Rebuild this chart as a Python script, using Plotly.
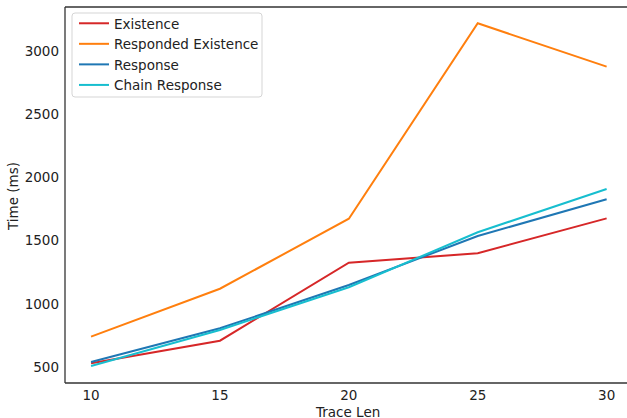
import plotly.graph_objects as go

trace_len = [10, 15, 20, 25, 30]
existence = [529, 708, 1325, 1400, 1676]
responded_existence = [740, 1119, 1673, 3219, 2876]
response = [540, 806, 1149, 1536, 1827]
chain_response = [508, 793, 1131, 1566, 1908]

series = [
    ("Existence", existence, "#d62728"),
    ("Responded Existence", responded_existence, "#ff7f0e"),
    ("Response", response, "#1f77b4"),
    ("Chain Response", chain_response, "#17becf"),
]

fig = go.Figure()
for name, vals, color in series:
    fig.add_trace(go.Scatter(x=trace_len, y=vals, mode="lines", name=name,
                             line=dict(color=color, width=2)))

W, H = 627, 418
L, R, T, B = 65, 0, 7, 35
pw, ph = W - L - R, H - T - B

def px(x):
    return (x - L) / pw

def py(y):
    return (H - B - y) / ph

font = dict(family="DejaVu Sans", size=13.5, color="#222")
fig.update_layout(
    width=W, height=H,
    margin=dict(l=L, r=R, t=T, b=B),
    plot_bgcolor="white", paper_bgcolor="white",
    font=font,
    showlegend=True,
    legend=dict(x=px(74), y=py(8), xanchor="left", yanchor="top",
                bgcolor="rgba(0,0,0,0)", borderwidth=0,
                font=dict(family="DejaVu Sans", size=13.5, color="#222"),
                tracegroupgap=0, itemwidth=30),
    xaxis=dict(range=[8.99, 30.79], tickvals=[10, 15, 20, 25, 30], showgrid=False,
               zeroline=False, showline=False, ticks="", ticklabelstandoff=2,
               automargin=False),
    yaxis=dict(range=[373.4, 3348], tickvals=[500, 1000, 1500, 2000, 2500, 3000],
               showgrid=False, zeroline=False, showline=False, ticks="",
               ticklabelstandoff=5, automargin=False),
)

fig.add_annotation(text="Trace Len", xref="paper", yref="paper", x=px(347.5), y=py(411.5),
                   xanchor="center", yanchor="middle", showarrow=False, font=font)
fig.add_annotation(text="Time (ms)", xref="paper", yref="paper", x=px(13), y=py(197),
                   xanchor="center", yanchor="middle", showarrow=False, textangle=-90,
                   font=font)

# legend frame (rounded)
x0, x1, y0, y1, r = 72, 262, 13, 97, 3
rx, ry = r / pw, r / ph
X0, X1, Y0, Y1 = px(x0), px(x1), py(y1), py(y0)
path = (f"M {X0+rx},{Y0} L {X1-rx},{Y0} Q {X1},{Y0} {X1},{Y0+ry} "
        f"L {X1},{Y1-ry} Q {X1},{Y1} {X1-rx},{Y1} L {X0+rx},{Y1} "
        f"Q {X0},{Y1} {X0},{Y1-ry} L {X0},{Y0+ry} Q {X0},{Y0} {X0+rx},{Y0} Z")
fig.add_shape(type="path", xref="paper", yref="paper", path=path,
              fillcolor="rgba(255,255,255,0.8)", line=dict(color="#d5d5d5", width=1),
              layer="above")

for a0, b0, a1, b1 in [(0, 0, 0, 1), (0, 1, 1, 1), (0, 0, 1, 0)]:
    fig.add_shape(type="line", xref="paper", yref="paper", x0=a0, y0=b0, x1=a1, y1=b1,
                  line=dict(color="#333", width=1.3))

fig.write_html("out.html")
